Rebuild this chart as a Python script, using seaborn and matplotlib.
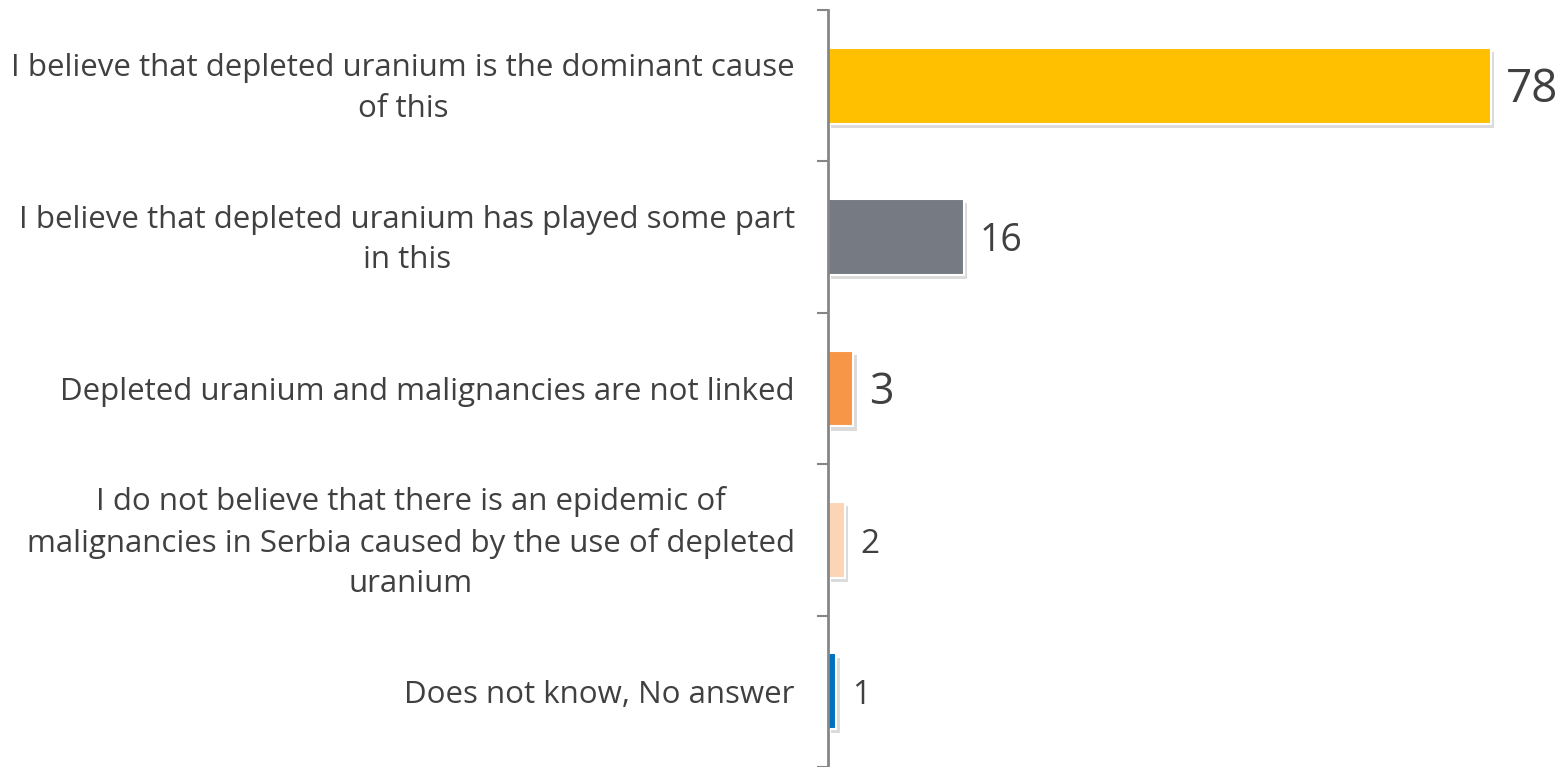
import pandas as pd
import matplotlib
matplotlib.use("Agg")
from matplotlib import pyplot as plt
from matplotlib import patheffects as pe
from matplotlib.transforms import ScaledTranslation
import seaborn as sns

categories = [
    "I believe that depleted uranium is the dominant cause\nof this",
    "I believe that depleted uranium has played some part\nin this",
    "Depleted uranium and malignancies are not linked",
    "I do not believe that there is an epidemic of\nmalignancies in Serbia caused by the use of depleted\nuranium",
    "Does not know, No answer",
]
values = [78, 16, 3, 2, 1]
colors = ["#FFC000", "#767A82", "#F79646", "#FBD5B5", "#0070C0"]
label_sizes = [33, 27, 31, 24, 23]

df = pd.DataFrame({"answer": categories, "pct": values})

sns.set_style("white")
plt.rcParams["font.family"] = ["Open Sans", "DejaVu Sans"]

fig = plt.figure(figsize=(15.58, 7.67), dpi=100)
ax = fig.add_axes([828 / 1558, 0.0, 680 / 1558, 757 / 767])

sns.barplot(data=df, y="answer", x="pct", hue="answer", palette=colors,
            orient="h", width=0.5, legend=False, ax=ax, saturation=1,
            edgecolor="white", linewidth=1.5)

# soft drop shadow like the office chart
for bar in ax.patches:
    bar.set_path_effects([pe.SimplePatchShadow(offset=(2.5, -3), shadow_rgbFace="#9a9a9a", alpha=0.35),
                          pe.Normal()])

ax.set_xlim(0, 80)
ax.set_ylim(4.5, -0.5)
ax.set_xlabel("")
ax.set_ylabel("")
ax.set_xticks([])

for side in ["top", "right", "bottom"]:
    ax.spines[side].set_visible(False)
ax.spines["left"].set_color("#868686")
ax.spines["left"].set_linewidth(2)

ax.set_yticks(range(len(categories)))
ax.set_yticklabels(categories, fontsize=22.5, color="#404040", multialignment="center",
                   linespacing=1.45)
ax.tick_params(axis="y", which="major", length=0, pad=24)
ax.set_yticks([i - 0.5 for i in range(len(categories) + 1)], minor=True)
ax.tick_params(axis="y", which="minor", left=True, length=8, width=1.5,
               color="#868686", direction="out")

# nudge the wrapped category labels up a little
shift = ScaledTranslation(0, 0.06, fig.dpi_scale_trans)
for lbl in ax.get_yticklabels():
    if "\n" in lbl.get_text():
        lbl.set_transform(lbl.get_transform() + shift)

for i, (v, s) in enumerate(zip(values, label_sizes)):
    ax.annotate(str(v), xy=(v, i), xytext=(11, -3), textcoords="offset points",
                ha="left", va="center", fontsize=s, color="#404040")

fig.savefig("out.png", dpi=100)
